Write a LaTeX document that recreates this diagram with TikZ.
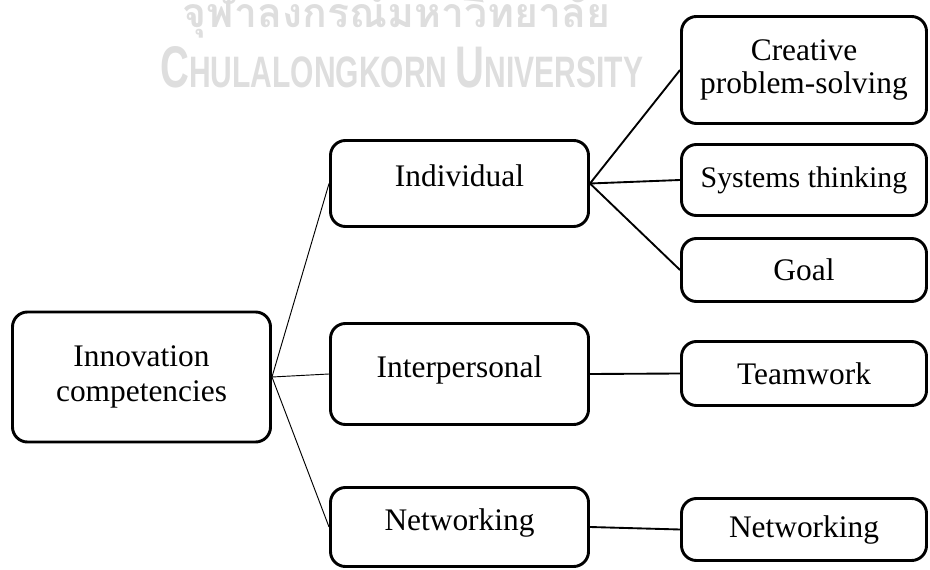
\documentclass[tikz,border=0pt]{standalone}
\usepackage{fontspec}
\setmainfont{Liberation Serif}
\setsansfont{Liberation Sans}
\newfontfamily\thaifont[Script=Thai]{Loma}
\definecolor{wmgray}{RGB}{222,222,222}

\begin{document}
\begin{tikzpicture}[x=0.03cm, y=-0.03cm,
        box/.style={draw, line width=2.5pt, rounded corners=0.45cm, inner sep=0pt, align=center, font=\fontsize{26.8}{27.5}\selectfont},
        midbox/.style={box, minimum width=7.74cm, text height=0.65cm, text depth=0.445cm},
        leafbox/.style={box, minimum width=7.35cm},
        mark text/.style={anchor=base west, inner sep=0pt, text=wmgray},
        thinlink/.style={line width=0.8pt},
        link/.style={line width=1.6pt}]
        \useasboundingbox (0,0) rectangle (930,570);

        \node[mark text] (wm1) at (182, 28) {\resizebox{12.84cm}{!}{\thaifont\bfseries จุฬาลงกรณ์มหาวิทยาลัย}};
        \node[mark text] (wm2) at (160, 88) {\resizebox{14.49cm}{1.23cm}{\sffamily\bfseries\fontsize{40}{40}\selectfont C\fontsize{30}{30}\selectfont HULALONGKORN \fontsize{40}{40}\selectfont U\fontsize{30}{30}\selectfont NIVERSITY}};

        \node[box, minimum width=7.74cm, minimum height=3.9cm, font=\fontsize{26.8}{30.6}\selectfont] (R) at (141.5, 377) {Innovation\\competencies};

        \node[midbox, minimum height=2.58cm] (M1) at (459.5, 183.5) {Individual};
        \node[midbox, minimum height=3.03cm] (M2) at (459.5, 374) {Interpersonal};
        \node[midbox, minimum height=2.37cm] (M3) at (459.5, 527) {Networking};

        \node[leafbox, minimum height=3.21cm] (L1) at (804, 70) {Creative\\problem-solving};
        \node[leafbox, minimum height=2.13cm, font=\fontsize{25.5}{30}\selectfont] (L2) at (804, 180) {Systems thinking};
        \node[leafbox, minimum height=1.89cm] (L3) at (804, 270) {Goal};
        \node[leafbox, minimum height=1.92cm] (L4) at (804, 373.5) {Teamwork};
        \node[leafbox, minimum height=1.86cm] (L5) at (804, 529.5) {Networking};

        \draw[thinlink] (R.east) -- (M1.west);
        \draw[thinlink] (R.east) -- (M2.west);
        \draw[thinlink] (R.east) -- (M3.west);
        \draw[link] (M1.east) -- (L1.west);
        \draw[link] (M1.east) -- (L2.west);
        \draw[link] (M1.east) -- (L3.west);
        \draw[link] (M2.east) -- (L4.west);
        \draw[link] (M3.east) -- (L5.west);
    \end{tikzpicture}
\end{document}
